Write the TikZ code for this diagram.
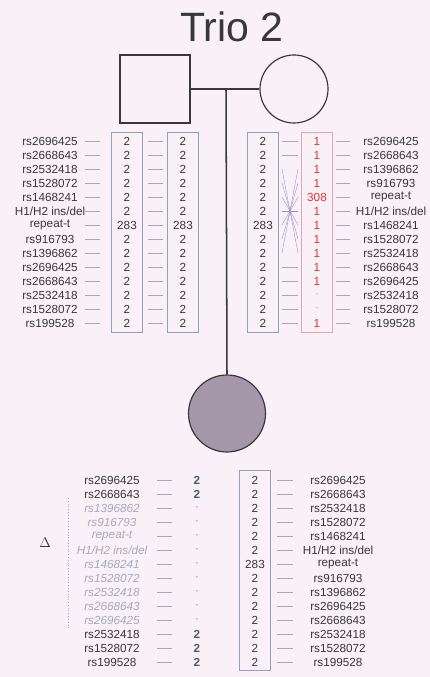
\documentclass[tikz,border=0pt]{standalone}
\usepackage{fontspec}
\setmainfont{Liberation Sans}
\usepackage{xcolor}
\usepackage{tikz}
\usetikzlibrary{positioning}
\definecolor{paper}{HTML}{F9F1F7}
\definecolor{ink}{HTML}{383838}
\definecolor{hapline}{HTML}{8EA3B4}
\definecolor{redline}{HTML}{E9A3AA}
\definecolor{redtext}{HTML}{E5332F}
\definecolor{tickgray}{HTML}{A8A8B0}
\definecolor{crossline}{HTML}{9A8FC4}
\definecolor{delgray}{HTML}{A9A9BC}
\definecolor{affected}{HTML}{A597AA}
\definecolor{slate}{HTML}{4E5A6A}
\newcommand{\hhins}{H1/H2 ins/del}
\newcommand{\nocall}{\textcolor{delgray}{\scriptsize -}}

\begin{document}
\begin{tikzpicture}[
          x=0.03cm, y=-0.03cm,
          every node/.style={font=\fontsize{10}{12}\selectfont,inner sep=0pt},
          lbl/.style={text=ink},
          dlbl/.style={text=delgray,font=\fontsize{10}{12}\selectfont\itshape},
          num/.style={text=ink},
          rnum/.style={text=redtext},
          pnum/.style={text=slate,font=\fontsize{10}{12}\selectfont\bfseries},
          hapbox/.style={draw=hapline,line width=0.5pt,minimum width=0.93cm,minimum height=6cm},
          redbox/.style={hapbox,draw=redline},
          person/.style={draw=ink,line width=1pt},
          tick/.style={draw=tickgray,line width=0.4pt},
          swap/.style={draw=crossline,line width=0.3pt}
      ]
        \fill[paper] (0,0) rectangle (430,677);
        \useasboundingbox (0,0) rectangle (430,677);

        \node[font=\fontsize{35}{40}\selectfont,text=ink] (title) at (232,27) {Trio 2};
        \node[person,minimum width=2.1cm,minimum height=2.04cm] (father) at (155,89) {};
        \node[person,circle,minimum size=2.04cm] (mother) at (294,89) {};
        \node[person,circle,fill=affected,minimum size=2.31cm] (child) at (227,413.5) {};
        \coordinate (mating) at (226,89);
        \draw[person] (father.east) -- (mother.west);
        \draw[person,line width=1.3pt] (mating) -- (child.north);

        \node[hapbox] (fhapA) at (127,232) {};
        \node[hapbox] (fhapB) at (183,232) {};
        \node[hapbox] (mhapA) at (263,232) {};
        \node[redbox] (mhapB) at (317,232) {};
        \node[hapbox] (chap) at (255,570) {};

        \foreach \lab [count=\i] in {rs2696425,rs2668643,rs2532418,rs1528072,rs1468241,\hhins,repeat-t,
                                     rs916793,rs1396862,rs2696425,rs2668643,rs2532418,rs1528072,rs199528} {
          \node[lbl] (fl\i) at (50,{127+14*\i}) {\lab};
          \node[lbl] (cl\i) at (338,{466+14*\i}) {\lab};
        }
        \foreach \lab [count=\i] in {rs2696425,rs2668643,rs1396862,rs916793,repeat-t,\hhins,rs1468241,
                                     rs1528072,rs2532418,rs2668643,rs2696425,rs2532418,rs1528072,rs199528}
          \node[lbl] (ml\i) at (391,{127+14*\i}) {\lab};
        \foreach \lab/\sty [count=\i] in {rs2696425/lbl,rs2668643/lbl,rs1396862/dlbl,rs916793/dlbl,
                                     repeat-t/dlbl,\hhins/dlbl,rs1468241/dlbl,rs1528072/dlbl,rs2532418/dlbl,
                                     rs2668643/dlbl,rs2696425/dlbl,rs2532418/lbl,rs1528072/lbl,rs199528/lbl}
          \node[\sty] (pl\i) at (112,{466+14*\i}) {\lab};

        \foreach \v [count=\i] in {2,2,2,2,2,2,283,2,2,2,2,2,2,2} {
          \node[num] (fa\i) at (127,{127+14*\i}) {\v};
          \node[num] (fb\i) at (183,{127+14*\i}) {\v};
          \node[num] (ma\i) at (263,{127+14*\i}) {\v};
          \node[num] (cv\i) at (255,{466+14*\i}) {\v};
        }
        \foreach \v [count=\i] in {1,1,1,1,308,1,1,1,1,1,1,\nocall,\nocall,1}
          \node[rnum] (mb\i) at (317,{127+14*\i}) {\v};
        \foreach \v [count=\i] in {2,2,\nocall,\nocall,\nocall,\nocall,\nocall,\nocall,\nocall,\nocall,\nocall,2,2,2}
          \node[pnum] (pv\i) at (197,{466+14*\i}) {\v};

        \foreach \i in {1,...,14} {
          \draw[tick] (85,{127+14*\i}) -- (100,{127+14*\i});
          \draw[tick] (148,{127+14*\i}) -- (163,{127+14*\i});
          \draw[tick] (336,{127+14*\i}) -- (350,{127+14*\i});
          \draw[tick] (157,{466+14*\i}) -- (172,{466+14*\i});
          \draw[tick] (277,{466+14*\i}) -- (293,{466+14*\i});
          \coordinate (xl\i) at (282,{127+14*\i});
          \coordinate (xr\i) at (298,{127+14*\i});
        }
        \foreach \i in {1,2,10,11,12,13,14}
          \draw[tick] (xl\i) -- (xr\i);
        \foreach \i [evaluate=\i as \j using int(12-\i)] in {3,...,9}
          \draw[swap] (xl\i) -- (xr\j);

        \node[font=\fontsize{13}{15}\selectfont,text=ink] (deletion) at (45,543) {$\Delta$};
        \coordinate (deltop) at (68,498);
        \coordinate (delbot) at (68,628);
        \draw[delgray,dotted] (deltop) -- (delbot);
      \end{tikzpicture}
\end{document}
